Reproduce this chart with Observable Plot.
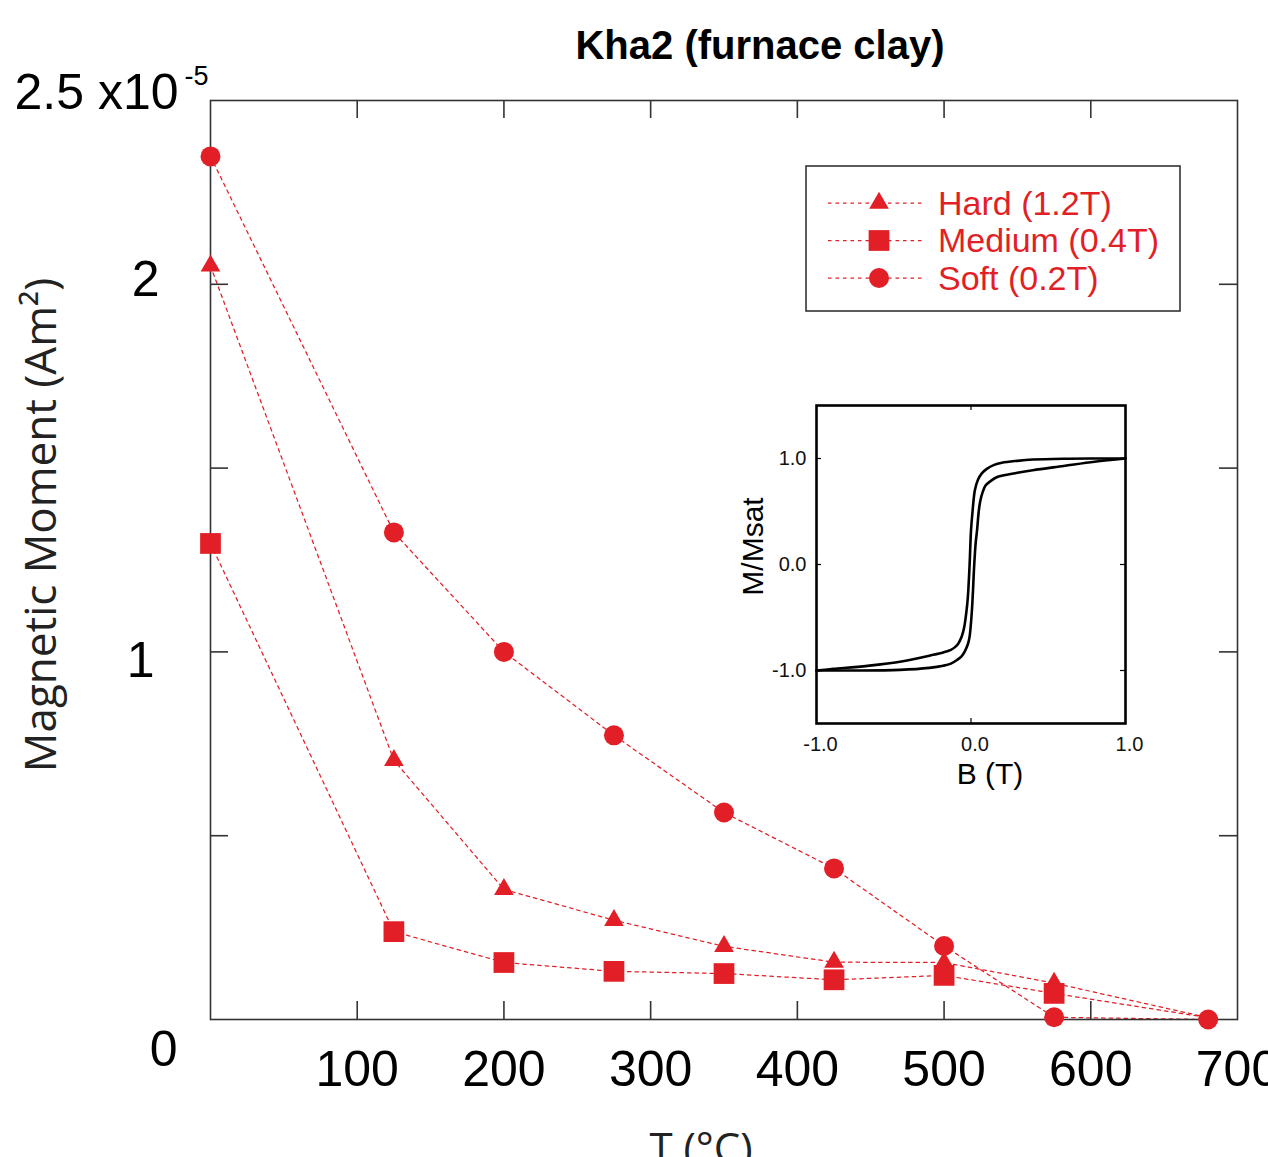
<!DOCTYPE html>
<html><head><meta charset="utf-8">
<script src="https://cdn.jsdelivr.net/npm/d3@7"></script>
<script src="https://cdn.jsdelivr.net/npm/@observablehq/plot@0.6"></script>
<style>
html,body{margin:0;padding:0;background:#fff;overflow:hidden;}
#wrap{position:relative;width:1268px;height:1157px;overflow:hidden;}
#wrap svg{max-width:none;}
#inset{position:absolute;left:730px;top:395px;}
</style></head><body><div id="wrap"><div id="main"></div><div id="inset"></div></div>
<script>
// ---- data: stepwise thermal demagnetisation of IRM components ----
const temps = [0, 125, 200, 275, 350, 425, 500, 575, 680];
const hard = [2.05, 0.705, 0.354, 0.27, 0.199, 0.156, 0.155, 0.099, 0.005];
const medium = [1.295, 0.239, 0.155, 0.131, 0.125, 0.108, 0.12, 0.071, 0.005];
const soft = [2.348, 1.325, 1.0, 0.773, 0.563, 0.411, 0.2, 0.006, 0];
const seriesNames = ["Hard (1.2T)", "Medium (0.4T)", "Soft (0.2T)"];

const xTickValues = [100, 200, 300, 400, 500, 600];
const xTickLabels = [100, 200, 300, 400, 500, 600, 700];
const yTickValues = [0.5, 1, 1.5, 2];

// ---- inset: hysteresis loop (B in T, M/Msat) ----
const loopDownB = [1.0, 0.8, 0.6, 0.4, 0.3, 0.2, 0.15, 0.1, 0.07, 0.045, 0.025, 0.01, 0.0, -0.009, -0.02, -0.03, -0.045, -0.06, -0.08, -0.1, -0.13, -0.18, -0.27, -0.45, -0.67, -0.89, -1.0];
const loopDownM = [1.0, 1.0, 0.998, 0.99, 0.978, 0.96, 0.94, 0.9, 0.86, 0.8, 0.7, 0.5, 0.32, 0.0, -0.3, -0.45, -0.6, -0.68, -0.74, -0.775, -0.805, -0.83, -0.86, -0.915, -0.956, -0.985, -1.0];
const loopUpB = [-1.0, -0.78, -0.46, -0.27, -0.18, -0.13, -0.09, -0.06, -0.04, -0.02, -0.009, 0.006, 0.021, 0.03, 0.039, 0.05, 0.06, 0.075, 0.093, 0.125, 0.17, 0.3, 0.4, 0.6, 0.8, 1.0];
const loopUpM = [-1.0, -1.0, -0.994, -0.975, -0.955, -0.935, -0.9, -0.865, -0.82, -0.75, -0.68, -0.43, 0.0, 0.2, 0.32, 0.5, 0.6, 0.68, 0.743, 0.785, 0.825, 0.865, 0.89, 0.93, 0.97, 1.0];
const insetTicks = [-1, 0, 1];
const insetTickLabels = ["-1.0", "0.0", "1.0"];

// ---- build ----
const red = "#e21f26";
const helv = "'Liberation Sans', Arial, Helvetica, sans-serif";
const human = "'Open Sans', 'Noto Sans', sans-serif";
const toRows = (vals, s) => temps.map((t, i) => ({t, v: vals[i], s}));
const dHard = toRows(hard, seriesNames[0]);
const dMed = toRows(medium, seriesNames[1]);
const dSoft = toRows(soft, seriesNames[2]);
// the last (680 °C) step is only marked for the soft fraction
const lastT = temps[temps.length - 1];
const marked = d => d.t < lastT;

const W = 1268, H = 1157, mL = 210, mR = 31, mT = 100, mB = 138;
const pw = W - mL - mR, ph = H - mT - mB;
const tick = 18;
const lineOpts = {x: "t", y: "v", stroke: red, strokeWidth: 1.25, strokeDasharray: "3.5,4"};
const frameCol = "#333";

const main = Plot.plot({
  width: W, height: H, marginLeft: mL, marginRight: mR, marginTop: mT, marginBottom: mB,
  style: {background: "#fff", overflow: "visible", fontFamily: helv, color: "#000"},
  x: {domain: [0, 700], axis: null},
  y: {domain: [0, 2.5], axis: null},
  marks: [
    Plot.line(dHard, lineOpts),
    Plot.line(dMed, lineOpts),
    Plot.line(dSoft, lineOpts),
    Plot.tickX(xTickValues, {x: d => d, insetTop: ph - tick, stroke: frameCol, strokeWidth: 1.6}),
    Plot.tickX(xTickValues, {x: d => d, insetBottom: ph - tick, stroke: frameCol, strokeWidth: 1.6}),
    Plot.tickY(yTickValues, {y: d => d, insetRight: pw - tick, stroke: frameCol, strokeWidth: 1.6}),
    Plot.tickY(yTickValues, {y: d => d, insetLeft: pw - tick, stroke: frameCol, strokeWidth: 1.6}),
    Plot.frame({stroke: frameCol, strokeWidth: 1.6}),
    Plot.dot(dHard.filter(marked), {x: "t", y: "v", symbol: "triangle", r: 7.3, fill: red, stroke: "none"}),
    Plot.dot(dMed.filter(marked), {x: "t", y: "v", symbol: "square", r: 11.7, fill: red, stroke: "none"}),
    Plot.dot(dSoft, {x: "t", y: "v", symbol: "circle", r: 10, fill: red, stroke: "none"}),
    // x tick labels
    Plot.text(xTickLabels, {x: d => d, text: d => String(d), frameAnchor: "bottom", lineAnchor: "bottom", dy: 66, fontSize: 50, fill: "#000"}),
    // y tick labels
    Plot.text([0], {y: d => d, text: d => String(d), frameAnchor: "left", textAnchor: "end", dx: -33, dy: 30, fontSize: 50, fill: "#000"}),
    Plot.text([1], {y: d => d, text: d => String(d), frameAnchor: "left", textAnchor: "end", dx: -56, dy: 9, fontSize: 50, fill: "#000"}),
    Plot.text([2], {y: d => d, text: d => String(d), frameAnchor: "left", textAnchor: "end", dx: -51, dy: -4, fontSize: 50, fill: "#000"}),
    Plot.text([2.5], {y: d => d, text: () => "2.5 x10", frameAnchor: "left", textAnchor: "end", dx: -32, dy: -8, fontSize: 50, fill: "#000"}),
    Plot.text([2.5], {y: d => d, text: () => "-5", frameAnchor: "left", textAnchor: "start", dx: -26, dy: -24, fontSize: 27, fill: "#000"}),
    // axis titles
    Plot.text(["Magnetic Moment (Am²)"], {text: d => d, frameAnchor: "left", textAnchor: "middle", rotate: -90, lineAnchor: "bottom", dx: -155, dy: -35, fontSize: 44, fontFamily: human, fill: "#222"}),
    Plot.text(["T (°C)"], {text: d => d, frameAnchor: "bottom", textAnchor: "middle", lineAnchor: "bottom", dx: -23, dy: 143, fontSize: 42, fontFamily: human, fill: "#222"}),
    // title
    Plot.text(["Kha2 (furnace clay)"], {text: d => d, frameAnchor: "top", textAnchor: "middle", lineAnchor: "bottom", dx: 36, dy: -42, fontSize: 40, fontWeight: "bold", fill: "#000"})
  ]
});
document.getElementById("main").appendChild(main);

// legend (drawn into the main svg)
const lg = d3.select(main).append("g").attr("class", "legend");
lg.append("rect").attr("x", 806).attr("y", 166).attr("width", 374).attr("height", 145)
  .attr("fill", "#fff").attr("stroke", frameCol).attr("stroke-width", 1.6);
const legSyms = [[d3.symbolTriangle, 7.3], [d3.symbolSquare, 11.7], [d3.symbolCircle, 10]];
seriesNames.forEach((name, i) => {
  const cy = 203 + i * 37.5;
  lg.append("line").attr("x1", 828).attr("x2", 923).attr("y1", cy).attr("y2", cy)
    .attr("stroke", red).attr("stroke-width", 1.25).attr("stroke-dasharray", "3.5,4");
  const [sym, r] = legSyms[i];
  lg.append("path").attr("transform", `translate(879,${cy})`)
    .attr("d", d3.symbol(sym, r * r * Math.PI)()).attr("fill", red);
  lg.append("text").attr("x", 938).attr("y", cy).attr("dy", "0.35em").attr("text-anchor", "start")
    .attr("font-family", helv).attr("font-size", 34).attr("fill", red).text(name);
});

// inset
const loopDown = loopDownB.map((b, i) => ({b, m: loopDownM[i]}));
const loopUp = loopUpB.map((b, i) => ({b, m: loopUpM[i]}));
const iW = 410, iH = 400, iL = 86, iR = 15, iT = 10, iB = 72;
const ipw = iW - iL - iR, iph = iH - iT - iB;
const itick = 5;
const inset = Plot.plot({
  width: iW, height: iH, marginLeft: iL, marginRight: iR, marginTop: iT, marginBottom: iB,
  style: {background: "transparent", overflow: "visible", fontFamily: helv},
  x: {domain: [-1, 1], axis: null},
  y: {domain: [-1.5, 1.5], axis: null},
  marks: [
    Plot.line(loopDown, {x: "b", y: "m", curve: "catmull-rom", stroke: "#000", strokeWidth: 2.6}),
    Plot.line(loopUp, {x: "b", y: "m", curve: "catmull-rom", stroke: "#000", strokeWidth: 2.6}),
    Plot.tickX([0], {x: d => d, insetTop: iph - itick, stroke: "#000", strokeWidth: 1.2}),
    Plot.tickX([0], {x: d => d, insetBottom: iph - itick, stroke: "#000", strokeWidth: 1.2}),
    Plot.tickY(insetTicks, {y: d => d, insetRight: ipw - itick, stroke: "#000", strokeWidth: 1.2}),
    Plot.tickY(insetTicks, {y: d => d, insetLeft: ipw - itick, stroke: "#000", strokeWidth: 1.2}),
    Plot.frame({stroke: "#000", strokeWidth: 2.6}),
    Plot.text(insetTicks, {x: d => d, text: (d, i) => insetTickLabels[i], frameAnchor: "bottom", lineAnchor: "bottom", dx: 4, dy: 27, fontSize: 20, fill: "#111"}),
    Plot.text(insetTicks, {y: d => d, text: (d, i) => insetTickLabels[i], frameAnchor: "left", textAnchor: "end", dx: -10, fontSize: 20, fill: "#111"}),
    Plot.text(["B (T)"], {text: d => d, frameAnchor: "bottom", textAnchor: "middle", lineAnchor: "bottom", dx: 19, dy: 60, fontSize: 30, fill: "#000"}),
    Plot.text(["M/Msat"], {text: d => d, frameAnchor: "left", textAnchor: "middle", rotate: -90, lineAnchor: "bottom", dx: -54, dy: -18, fontSize: 30, fill: "#000"})
  ]
});
document.getElementById("inset").appendChild(inset);
</script></body></html>
